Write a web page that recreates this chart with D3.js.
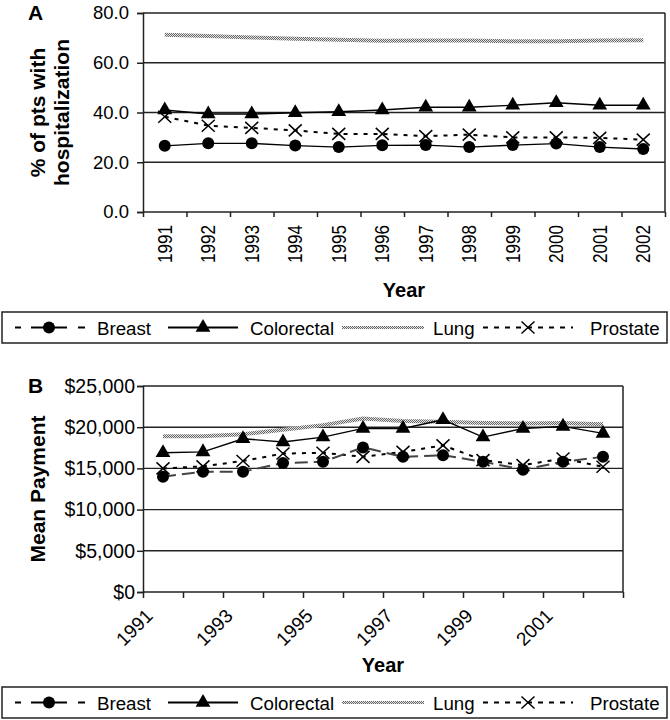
<!DOCTYPE html>
<html>
<head>
<meta charset="utf-8">
<script src="https://cdn.jsdelivr.net/npm/d3@7"></script>
<style>
body { margin: 0; background: #fff; }
text { font-family: "Liberation Sans", Arial, sans-serif; fill: #000; }
</style>
</head>
<body>
<svg width="670" height="720"></svg>
<script>
// data
const years = [1991, 1992, 1993, 1994, 1995, 1996, 1997, 1998, 1999, 2000, 2001, 2002];

const hospBreast = [26.6, 27.6, 27.6, 26.7, 26.1, 26.8, 26.9, 26.1, 26.9, 27.5, 26.1, 25.3];
const hospColorectal = [41.0, 39.4, 39.4, 39.9, 40.3, 41.0, 42.1, 42.1, 42.9, 43.9, 42.9, 42.9];
const hospLung = [71.3, 70.8, 70.2, 69.6, 69.2, 68.8, 68.9, 68.9, 68.6, 68.6, 68.9, 69.0];
const hospProstate = [38.3, 34.7, 33.8, 32.8, 31.4, 31.4, 30.5, 31.1, 30.0, 30.0, 29.8, 29.1];
const hospTicks = [0, 20, 40, 60, 80];

const payBreast = [14000, 14600, 14600, 15650, 15800, 17550, 16400, 16600, 15800, 14850, 15800, 16400];
const payColorectal = [16900, 17000, 18600, 18200, 18800, 19850, 19850, 20900, 18800, 19850, 20100, 19250];
const payLung = [18900, 18900, 19150, 19700, 20250, 21050, 20750, 20650, 20500, 20450, 20500, 20350];
const payProstate = [15000, 15250, 15900, 16800, 16900, 16400, 17000, 17800, 16000, 15400, 16200, 15200];
const payTicks = [0, 5000, 10000, 15000, 20000, 25000];
const payYearLabels = [1991, 1993, 1995, 1997, 1999, 2001];

const svg = d3.select("svg");
const font = '"Liberation Sans", Arial, sans-serif';

// checkered texture for the lung line
const defs = svg.append("defs");
const pat = defs.append("pattern").attr("id", "checker")
  .attr("patternUnits", "userSpaceOnUse").attr("width", 2).attr("height", 2);
pat.append("rect").attr("width", 2).attr("height", 2).attr("fill", "#e4e4e4");
pat.append("rect").attr("width", 1).attr("height", 1).attr("fill", "#666");
pat.append("rect").attr("x", 1).attr("y", 1).attr("width", 1).attr("height", 1).attr("fill", "#666");

const styles = {
  Breast: { stroke: "#000", width: 1.4, dash: null, marker: "circle" },
  Colorectal: { stroke: "#000", width: 1.4, dash: null, marker: "triangle" },
  Lung: { stroke: "url(#checker)", width: 4, dash: null, marker: null },
  Prostate: { stroke: "#000", width: 2, dash: "4,6", marker: "x" }
};

function drawMarker(g, kind, cx, cy) {
  if (kind === "circle") {
    g.append("circle").attr("cx", cx).attr("cy", cy).attr("r", 6).attr("fill", "#000");
  } else if (kind === "triangle") {
    g.append("path").attr("d", d3.symbol(d3.symbolTriangle, 95)())
      .attr("transform", `translate(${cx},${cy})`).attr("fill", "#000");
  } else if (kind === "x") {
    g.append("path").attr("d", "M-6.5,-6L6.5,6M-6.5,6L6.5,-6")
      .attr("transform", `translate(${cx},${cy})`)
      .attr("stroke", "#000").attr("stroke-width", 1.5).attr("fill", "none");
  }
}

function drawLegend(top, bottom) {
  const g = svg.append("g");
  g.append("rect").attr("x", 2).attr("y", top).attr("width", 665).attr("height", bottom - top)
    .attr("fill", "none").attr("stroke", "#222").attr("stroke-width", 1.5);
  const cy = (top + bottom) / 2;
  const items = [
    { name: "Breast", x0: 15, x1: 85, tx: 97, dash: "6,10,36,11,7" },
    { name: "Colorectal", x0: 168, x1: 238, tx: 250, dash: null },
    { name: "Lung", x0: 342, x1: 424, tx: 433, dash: null },
    { name: "Prostate", x0: 483, x1: 573, tx: 590, dash: "5,6" }
  ];
  items.forEach(it => {
    const st = styles[it.name];
    g.append("line").attr("x1", it.x0).attr("x2", it.x1).attr("y1", cy).attr("y2", cy)
      .attr("stroke", it.name === "Lung" ? st.stroke : "#000")
      .attr("stroke-width", it.name === "Lung" ? 3 : 1.8)
      .attr("stroke-dasharray", it.dash);
    if (st.marker) drawMarker(g, st.marker, (it.x0 + it.x1) / 2 + (it.name === "Breast" ? -1 : 0), cy);
    g.append("text").attr("x", it.tx).attr("y", cy + 7).attr("font-size", 18.7).text(it.name);
  });
}

// ---------- Panel A ----------
const A = { left: 143, right: 665, top: 13, bottom: 212 };
const xA = d3.scaleBand().domain(years).range([A.left, A.right]);
const xAt = d3.scaleLinear().domain([0, years.length]).range([A.left, A.right]);
const yA = d3.scaleLinear().domain([0, 80]).range([A.bottom, A.top]);

const gA = svg.append("g");
gA.selectAll(".grid").data(hospTicks.slice(1)).join("line")
  .attr("x1", A.left).attr("x2", A.right).attr("y1", d => yA(d)).attr("y2", d => yA(d))
  .attr("stroke", "#222").attr("stroke-width", 1.4);
gA.append("line").attr("x1", A.right).attr("x2", A.right).attr("y1", A.top).attr("y2", A.bottom)
  .attr("stroke", "#222").attr("stroke-width", 1.5);

const axA = gA.append("g").attr("transform", `translate(${A.left},0)`)
  .call(d3.axisLeft(yA).tickValues(hospTicks).tickSize(6).tickPadding(8).tickFormat(d3.format(".1f")));
axA.selectAll("text").attr("font-size", 18.5).attr("font-family", font);
axA.selectAll("line, path").attr("stroke", "#222").attr("stroke-width", 1.5);

const axAx = gA.append("g").attr("transform", `translate(0,${A.bottom})`)
  .call(d3.axisBottom(xAt).ticks(years.length).tickSize(5).tickFormat(""));
axAx.selectAll("line, path").attr("stroke", "#222").attr("stroke-width", 1.5);
axAx.select(".domain").attr("d", `M${A.left},0H${A.right}`);

gA.selectAll(".yl").data(years).join("text")
  .attr("transform", d => `translate(${xA(d) + xA.bandwidth() / 2 + 7},225) rotate(-90)`)
  .attr("text-anchor", "end").attr("font-size", 20)
  .attr("textLength", 38).attr("lengthAdjust", "spacingAndGlyphs")
  .text(d => d);

gA.append("text").attr("x", (A.left + A.right) / 2).attr("y", 297).attr("text-anchor", "middle")
  .attr("font-size", 20).attr("font-weight", "bold").text("Year");
gA.append("text").attr("transform", `translate(45,${(A.top + A.bottom) / 2}) rotate(-90)`)
  .attr("text-anchor", "middle").attr("font-size", 21).attr("font-weight", "bold").text("% of pts with");
gA.append("text").attr("transform", `translate(69,${(A.top + A.bottom) / 2}) rotate(-90)`)
  .attr("text-anchor", "middle").attr("font-size", 21).attr("font-weight", "bold").text("hospitalization");
gA.append("text").attr("x", 28).attr("y", 20).attr("font-size", 21).attr("font-weight", "bold").text("A");

const hospData = { Breast: hospBreast, Colorectal: hospColorectal, Lung: hospLung, Prostate: hospProstate };
const lineA = d3.line().x((d, i) => xA(years[i]) + xA.bandwidth() / 2).y(d => yA(d));
["Lung", "Prostate", "Colorectal", "Breast"].forEach(name => {
  const st = styles[name];
  gA.append("path").attr("d", lineA(hospData[name])).attr("fill", "none")
    .attr("stroke", st.stroke).attr("stroke-width", st.width).attr("stroke-dasharray", st.dash);
  if (st.marker) hospData[name].forEach((v, i) =>
    drawMarker(gA, st.marker, xA(years[i]) + xA.bandwidth() / 2, yA(v)));
});

drawLegend(312, 343);

// ---------- Panel B ----------
const B = { left: 143, right: 623, top: 386, bottom: 592 };
const xB = d3.scaleBand().domain(years).range([B.left, B.right]);
const xBt = d3.scaleLinear().domain([0, years.length]).range([B.left, B.right]);
const yB = d3.scaleLinear().domain([0, 25000]).range([B.bottom, B.top]);

const gB = svg.append("g");
gB.selectAll(".grid").data(payTicks.slice(1)).join("line")
  .attr("x1", B.left).attr("x2", B.right).attr("y1", d => yB(d)).attr("y2", d => yB(d))
  .attr("stroke", "#222").attr("stroke-width", 1.4);
gB.append("line").attr("x1", B.right).attr("x2", B.right).attr("y1", B.top).attr("y2", B.bottom)
  .attr("stroke", "#222").attr("stroke-width", 1.5);

const axB = gB.append("g").attr("transform", `translate(${B.left},0)`)
  .call(d3.axisLeft(yB).tickValues(payTicks).tickSize(6).tickPadding(2)
    .tickFormat(d => "$" + d3.format(",")(d)));
axB.selectAll("text").attr("font-size", 19.5).attr("font-family", font);
axB.selectAll("line, path").attr("stroke", "#222").attr("stroke-width", 1.5);

const axBx = gB.append("g").attr("transform", `translate(0,${B.bottom})`)
  .call(d3.axisBottom(xBt).ticks(years.length).tickSize(6).tickFormat(""));
axBx.selectAll("line, path").attr("stroke", "#222").attr("stroke-width", 1.5);
axBx.select(".domain").attr("d", `M${B.left},0H${B.right}`);

gB.selectAll(".yl").data(payYearLabels).join("text")
  .attr("transform", d => `translate(${xB(d) + 11},617) rotate(-45)`)
  .attr("text-anchor", "end").attr("font-size", 19)
  .text(d => d);

gB.append("text").attr("x", (B.left + B.right) / 2).attr("y", 672).attr("text-anchor", "middle")
  .attr("font-size", 20).attr("font-weight", "bold").text("Year");
gB.append("text").attr("transform", `translate(45,${(B.top + B.bottom) / 2}) rotate(-90)`)
  .attr("text-anchor", "middle").attr("font-size", 21).attr("font-weight", "bold").text("Mean Payment");
gB.append("text").attr("x", 28).attr("y", 393).attr("font-size", 21).attr("font-weight", "bold").text("B");

const payData = { Breast: payBreast, Colorectal: payColorectal, Lung: payLung, Prostate: payProstate };
const stylesB = {
  Breast: { stroke: "#444", width: 2, dash: "13,6" },
  Colorectal: { stroke: "#000", width: 1.4, dash: null },
  Lung: { stroke: "url(#checker)", width: 4, dash: null },
  Prostate: { stroke: "#000", width: 2, dash: "4,6" }
};
const lineB = d3.line().x((d, i) => xB(years[i]) + xB.bandwidth() / 2).y(d => yB(d));
["Lung", "Colorectal", "Prostate", "Breast"].forEach(name => {
  const st = stylesB[name];
  gB.append("path").attr("d", lineB(payData[name])).attr("fill", "none")
    .attr("stroke", st.stroke).attr("stroke-width", st.width).attr("stroke-dasharray", st.dash);
  if (styles[name].marker) payData[name].forEach((v, i) =>
    drawMarker(gB, styles[name].marker, xB(years[i]) + xB.bandwidth() / 2, yB(v)));
});

drawLegend(687, 718);
</script>
</body>
</html>
